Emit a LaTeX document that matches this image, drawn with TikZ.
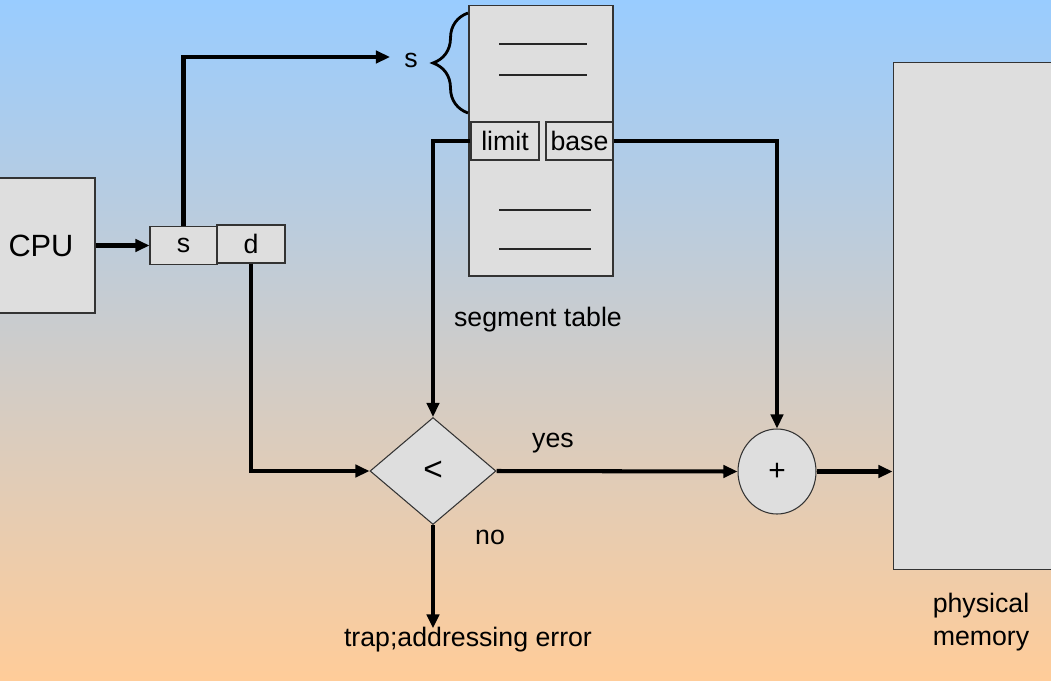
\documentclass[tikz,border=0pt]{standalone}
\usepackage{fontspec}
\setmainfont{Liberation Sans}
\usetikzlibrary{arrows.meta,shapes.geometric,decorations.pathreplacing}
\definecolor{bgtop}{RGB}{153,204,255}
\definecolor{bgbot}{RGB}{255,204,153}

\begin{document}
\begin{tikzpicture}[x=0.02cm,y=-0.02cm,
		font=\fontsize{15.2}{18.7}\selectfont,
		box/.style={draw=black!80,line width=0.6pt,fill=black!13,inner sep=0pt},
		conn/.style={line width=2.3pt,-{Triangle[length=8pt,width=7pt]}},
		rowline/.style={draw=black!85,line width=1.1pt}]
		\useasboundingbox (0,0) rectangle (1051,680);
		\shade[top color=bgtop,bottom color=bgbot] (0,0) rectangle (1051,680);
		% cpu and logical address
		\node[box,minimum width=2.16cm,minimum height=2.7cm,font=\fontsize{17.5}{20}\selectfont] (cpu) at (41,245.5) {CPU};
		\node[box,minimum width=1.34cm,minimum height=0.75cm] (sbox) at (183.5,245.5) {s};
		\node[box,minimum width=1.36cm,minimum height=0.76cm] (dbox) at (251,244) {d};
		% segment table
		\node[box,minimum width=2.88cm,minimum height=5.42cm] (segtab) at (541,140.5) {};
		\foreach \y/\xr in {44/587,75/587,210/591,249/591}
			\draw[rowline] (499,\y) -- (\xr,\y);
		\node[box,minimum width=1.36cm,minimum height=0.76cm] (limit) at (505,141) {limit};
		\node[box,minimum width=1.34cm,minimum height=0.76cm] (base) at (579.5,141) {base};
		\draw[line width=1.6pt,decorate,decoration={brace,amplitude=0.7cm}] (468,113) -- (468,13);
		\node (slabel) at (411,60) {s};
		\coordinate (stip) at (390,57);
		\node (segname) at (538,320) {segment table};
		% compare and add
		\node[box,diamond,minimum width=2.52cm,minimum height=2.14cm,font=\fontsize{19}{20}\selectfont] (cmp) at (433,471) {<};
		\node[box,ellipse,minimum width=1.56cm,minimum height=1.7cm,font=\fontsize{17}{18}\selectfont] (add) at (777,471.5) {+};
		\node (yes) at (553,443) {yes};
		\node (no) at (490,537) {no};
		\node (trap) at (468,640) {trap;addressing error};
		% memory
		\node[box,minimum width=3.44cm,minimum height=10.16cm] (mem) at (979,316) {};
		\node[align=center] (memname) at (981,622) {physical\\memory};
		% connectors
		\draw[conn] (cpu.east) -- (sbox.west);
		\draw[conn] (sbox.north) |- (stip);
		\draw[conn] (limit.west) -| (cmp.north);
		\draw[conn] (base.east) -| (add.north);
		\draw[conn] (dbox.south) |- (cmp.west);
		\draw[conn] (cmp.east) -- (add.west);
		\draw[conn] (add.east) -- (add.east -| mem.west);
		\draw[conn] (cmp.south) -- ([yshift=-4pt]cmp.south |- trap.north);
	\end{tikzpicture}
\end{document}
